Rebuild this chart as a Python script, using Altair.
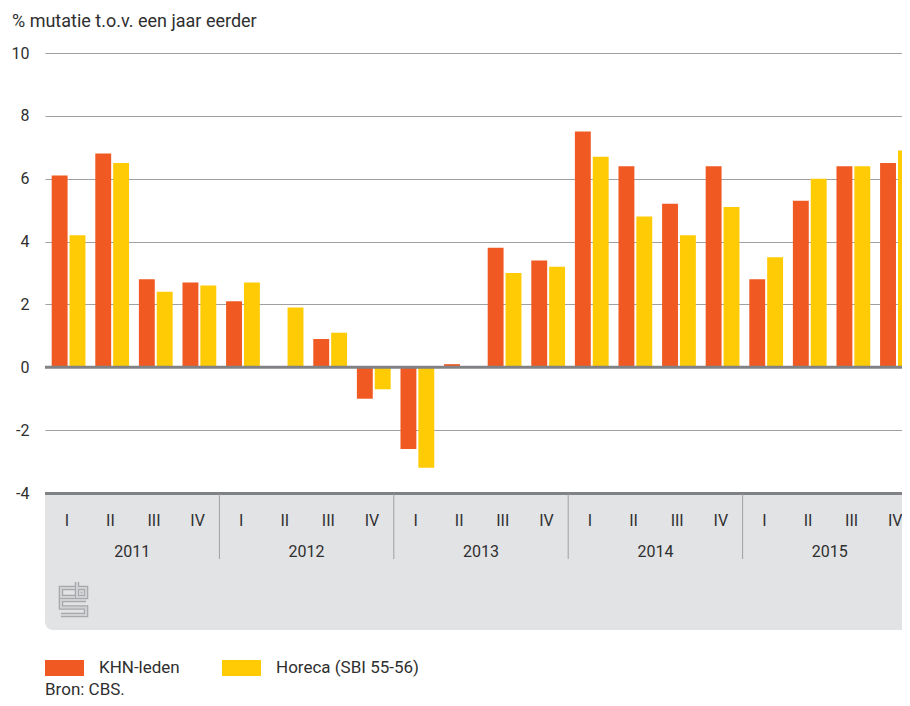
import altair as alt
import pandas as pd

# ---------------- data ----------------
years = [2011, 2012, 2013, 2014, 2015]
quarter_labels = ["I", "II", "III", "IV"]
series = ["KHN-leden", "Horeca (SBI 55-56)"]
colors = ["#f05a22", "#ffcb05"]
khn = [6.1, 6.8, 2.8, 2.7, 2.1, 0.0, 0.9, -1.0, -2.6, 0.1,
       3.8, 3.4, 7.5, 6.4, 5.2, 6.4, 2.8, 5.3, 6.4, 6.5]
horeca = [4.2, 6.5, 2.4, 2.6, 2.7, 1.9, 1.1, -0.7, -3.2, 0.0,
          3.0, 3.2, 6.7, 4.8, 4.2, 5.1, 3.5, 6.0, 6.4, 6.9]
y_ticks = [-4, -2, 0, 2, 4, 6, 8, 10]
y_title = "% mutatie t.o.v. een jaar eerder"
source = "Bron: CBS."

# ---------------- tables ----------------
keys = [f"{y}-{q}" for y in years for q in quarter_labels]
qlab = [q for y in years for q in quarter_labels]
bars = pd.DataFrame({
    "key": keys * 2,
    "series": [series[0]] * len(keys) + [series[1]] * len(keys),
    "value": khn + horeca,
})
qdf = pd.DataFrame({"key": keys, "q": qlab})
ydf = pd.DataFrame({"key": [f"{y}-III" for y in years], "year": [str(y) for y in years]})
sepdf = pd.DataFrame({"key": [f"{y}-I" for y in years[1:]]})
one = pd.DataFrame({"a": [0]})

FONT = "Roboto"
TXT = "#2f2f2f"
W, H = 857, 440
PANEL = "#e2e3e5"

xscale = alt.Scale(domain=keys, range=[0, 872], paddingInner=0, paddingOuter=0)

base = alt.Chart(bars)

bar_layer = base.mark_bar(clip=True).encode(
    x=alt.X("key:N", sort=keys, scale=xscale, axis=None),
    xOffset=alt.XOffset("series:N", sort=series,
                        scale=alt.Scale(domain=series, paddingInner=0.111,
                                        paddingOuter=0.275, align=0.68)),
    y=alt.Y("value:Q", scale=alt.Scale(domain=[-4, 10], nice=False, zero=False),
            axis=alt.Axis(values=y_ticks, title=None, domain=False, ticks=False,
                          tickSize=0, labelPadding=16, grid=True, gridColor="#a0a0a0",
                          gridWidth=1, labelFontSize=16, labelColor=TXT, labelFont=FONT,
                          labelExpr="datum.value + ''")),
    color=alt.Color("series:N", scale=alt.Scale(domain=series, range=colors), legend=None),
)

panel = alt.Chart(one).mark_rect(color=PANEL, cornerRadiusBottomLeft=8).encode(
    x=alt.value(0), x2=alt.value(W), y=alt.value(H), y2=alt.value(577))

zero_rule = alt.Chart(one).mark_rule(color="#808285", strokeWidth=3).encode(
    y=alt.datum(0), x=alt.value(0), x2=alt.value(W))
bottom_rule = alt.Chart(one).mark_rule(color="#808285", strokeWidth=3).encode(
    y=alt.value(H + 0.5), x=alt.value(0), x2=alt.value(W))

seps = alt.Chart(sepdf).mark_rule(color="#a0a0a0", strokeWidth=1).encode(
    x=alt.X("key:N", sort=keys, scale=xscale, bandPosition=0),
    y=alt.value(H + 1), y2=alt.value(506))

qtext = alt.Chart(qdf).mark_text(font=FONT, fontSize=16, color=TXT, baseline="middle").encode(
    x=alt.X("key:N", sort=keys, scale=xscale), y=alt.value(468), text="q:N")

ytext = alt.Chart(ydf).mark_text(font=FONT, fontSize=16, color=TXT, baseline="middle").encode(
    x=alt.X("key:N", sort=keys, scale=xscale, bandPosition=0), y=alt.value(499), text="year:N")

logo_path = ("M0.09,-0.64H-0.76V-0.09H0.09 "
             "M0.21,-1V-0.09H0.76V-0.64H0.21 "
             "M0.39,-0.45H0.58V-0.27H0.39Z "
             "M0.76,0.09H-0.76V0.55H0.76V1H-0.76")
logo_outer = alt.Chart(one).mark_point(shape=logo_path, filled=False, size=1089,
                                       stroke="#8e9093", strokeWidth=4.5).encode(
    x=alt.value(28.5), y=alt.value(545.5))
logo_inner = alt.Chart(one).mark_point(shape=logo_path, filled=False, size=1089,
                                       stroke=PANEL, strokeWidth=2).encode(
    x=alt.value(28.5), y=alt.value(545.5))

title_df = pd.DataFrame({"t": [y_title]})
title = alt.Chart(title_df).mark_text(font=FONT, fontSize=18, color=TXT, align="left",
                                      baseline="middle").encode(
    x=alt.value(-33), y=alt.value(-31), text="t:N")

legend_layers = []
lx = [0, 177]
for i, (s, c) in enumerate(zip(series, colors)):
    ldf = pd.DataFrame({"s": [s]})
    legend_layers.append(alt.Chart(ldf).mark_rect(color=c).encode(
        x=alt.value(lx[i]), x2=alt.value(lx[i] + 39), y=alt.value(607), y2=alt.value(623)))
    legend_layers.append(alt.Chart(ldf).mark_text(font=FONT, fontSize=17, color=TXT,
                                                  align="left", baseline="middle").encode(
        x=alt.value(lx[i] + 54), y=alt.value(615), text="s:N"))

src_df = pd.DataFrame({"t": [source]})
src = alt.Chart(src_df).mark_text(font=FONT, fontSize=17, color=TXT, align="left",
                                  baseline="middle").encode(
    x=alt.value(0), y=alt.value(637), text="t:N")

chart = alt.layer(
    panel, bar_layer, zero_rule, bottom_rule, seps, qtext, ytext,
    logo_outer, logo_inner, title, *legend_layers, src
).properties(
    width=W, height=H,
    autosize=alt.AutoSizeParams(type="none"),
    padding={"left": 37, "top": 45, "right": 0, "bottom": 205},
).configure_view(stroke=None)

chart.save("out.html", embed_options={"renderer": "svg", "actions": False})
